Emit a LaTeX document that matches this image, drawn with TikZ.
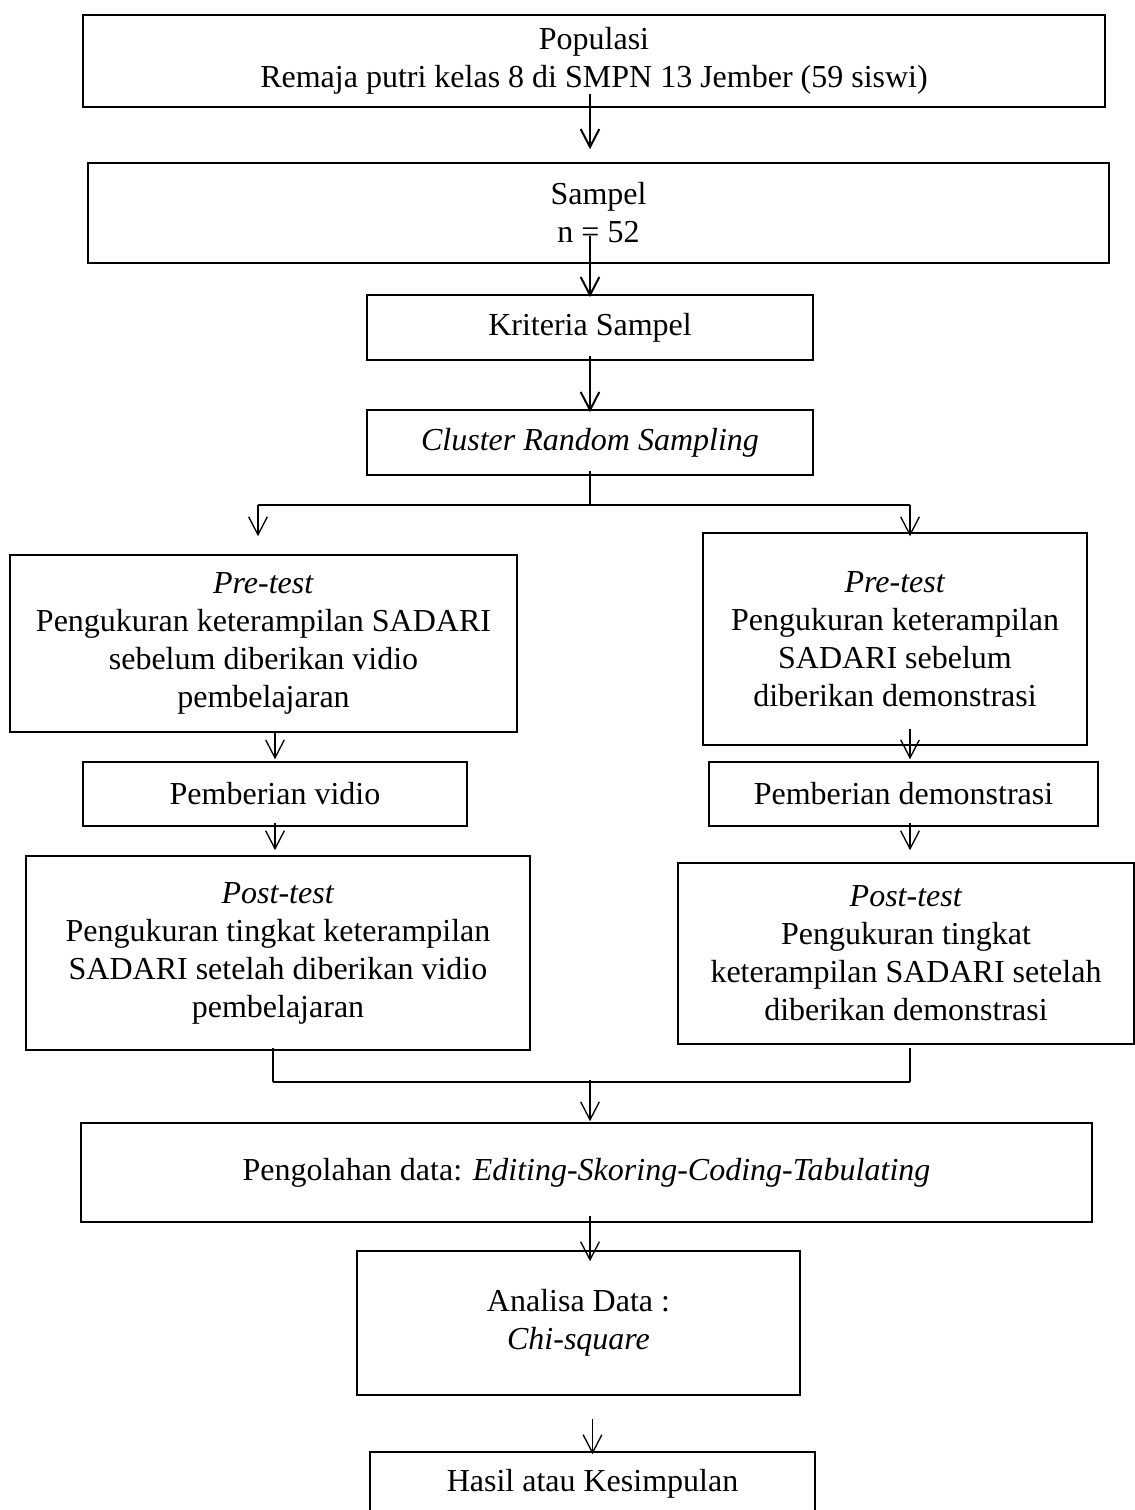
\documentclass[tikz,border=0pt]{standalone}
\usepackage{fontspec}
\setmainfont{Liberation Serif}
\usetikzlibrary{arrows.meta,calc,positioning}

\begin{document}
\begin{tikzpicture}[x=0.375pt, y=-0.375pt,
    box/.style={draw, line width=0.55pt, align=center, inner sep=0pt, font=\fontsize{12}{14.25}\selectfont},
    arr/.style={-{Straight Barb[length=6.75pt,width=7pt]}, line width=0.5pt},
    arrtebal/.style={arr, line width=0.75pt},
    bar/.style={line width=0.85pt}]
    \useasboundingbox (0,0) rectangle (1135,1510);
    \clip (0,0) rectangle (1135,1510);

    % Populasi dan sampel
    \node[box, minimum width=383.25pt, minimum height=34.5pt] (pop) at (594,61) {Populasi\\Remaja putri kelas 8 di SMPN 13 Jember (59 siswi)};
    \node[box, minimum width=382.9pt, minimum height=37.5pt] (samp) at (598.5,213) {Sampel\\n = 52};
    \node[box, minimum width=167.25pt, minimum height=24.4pt] (krit) at (590,327.5) {Kriteria Sampel};
    \node[box, minimum width=167.25pt, minimum height=24.4pt] (clus) at (590,442.5) {\textit{Cluster Random Sampling}};

    % Kelompok vidio
    \node[box, minimum width=190.1pt, minimum height=66.4pt] (preL) at (263.5,643.5) {\textit{Pre-test}\\Pengukuran keterampilan SADARI\\sebelum diberikan vidio\\pembelajaran};
    \node[box, minimum width=144pt, minimum height=24pt] (vid) at (275,794) {Pemberian vidio};
    \node[box, minimum width=189pt, minimum height=72.75pt] (postL) at (278,953) {\textit{Post-test}\\Pengukuran tingkat keterampilan\\SADARI setelah diberikan vidio\\pembelajaran};

    % Kelompok demonstrasi
    \node[box, minimum width=144pt, minimum height=79.5pt] (preR) at (895,639) {\textit{Pre-test}\\Pengukuran keterampilan\\SADARI sebelum\\diberikan demonstrasi};
    \node[box, minimum width=145.9pt, minimum height=24pt] (dem) at (903.5,794) {Pemberian demonstrasi};
    \node[box, minimum width=171pt, minimum height=67.9pt] (postR) at (906,953.5) {\textit{Post-test}\\Pengukuran tingkat\\keterampilan SADARI setelah\\diberikan demonstrasi};

    % Pengolahan dan analisa
    \node[box, minimum width=379.1pt, minimum height=37.1pt] (olah) at (586.5,1172.5) {Pengolahan data: \textit{Editing-Skoring-Coding-Tabulating}};
    \node[box, minimum width=166.1pt, minimum height=54pt] (anal) at (578.5,1323) {Analisa Data :\\\textit{Chi-square}};
    \node[box, minimum width=166.9pt, minimum height=24pt] (hasil) at (592.5,1484) {Hasil atau Kesimpulan};

    % Panah atas
    \draw[arrtebal] ([yshift=5.25pt]pop.south -| krit.north) -- ([yshift=4.9pt]samp.north -| krit.north);
    \draw[arrtebal] ([yshift=10.5pt]samp.south -| krit.north) -- ([yshift=-1.1pt]krit.north);
    \draw[arrtebal] ([yshift=1.9pt]krit.south) -- ([yshift=-1.1pt]clus.north);

    % Cabang
    \coordinate (cabM) at (590,505);
    \coordinate (cabL) at (258,505);
    \coordinate (cabR) at (910,505);
    \draw[line width=0.5pt] ([yshift=1.9pt]clus.south) -- (cabM);
    \draw[bar] (cabL) -- (cabR);
    \draw[arr] (cabL) -- ([yshift=6.75pt]cabL |- preL.north);
    \draw[arr] (cabR) -- ([yshift=-1.5pt]cabR |- preR.north);

    % Kiri
    \draw[arr] ([yshift=0.75pt]vid.north |- preL.south) -- ([yshift=0.75pt]vid.north);
    \draw[arr] ([yshift=1.5pt]vid.south) -- ([yshift=1.9pt]postL.north -| vid.south);

    % Kanan
    \draw[arr] ([yshift=6.4pt]cabR |- preR.south) -- ([yshift=0.75pt]cabR |- dem.north);
    \draw[arr] ([yshift=1.5pt]cabR |- dem.south) -- ([yshift=4.5pt]cabR |- postR.north);

    % Gabung
    \coordinate (gabL) at (273,1082);
    \coordinate (gabR) at (910,1082);
    \coordinate (gabM) at (590,1080);
    \draw[line width=0.5pt] ([yshift=1.1pt]gabL |- postL.south) -- (gabL);
    \draw[line width=0.5pt] ([yshift=-1.1pt]gabR |- postR.south) -- (gabR);
    \draw[bar] (gabL) -- (gabR);
    \draw[arr] (gabM) -- ([yshift=0.4pt]gabM |- olah.north);
    \draw[arr] ([yshift=2.6pt]gabM |- olah.south) -- ([yshift=-4.1pt]gabM |- anal.north);
    \draw[arr] ([yshift=-8.6pt]hasil.north |- anal.south) -- ([yshift=-1.1pt]hasil.north);
\end{tikzpicture}
\end{document}
